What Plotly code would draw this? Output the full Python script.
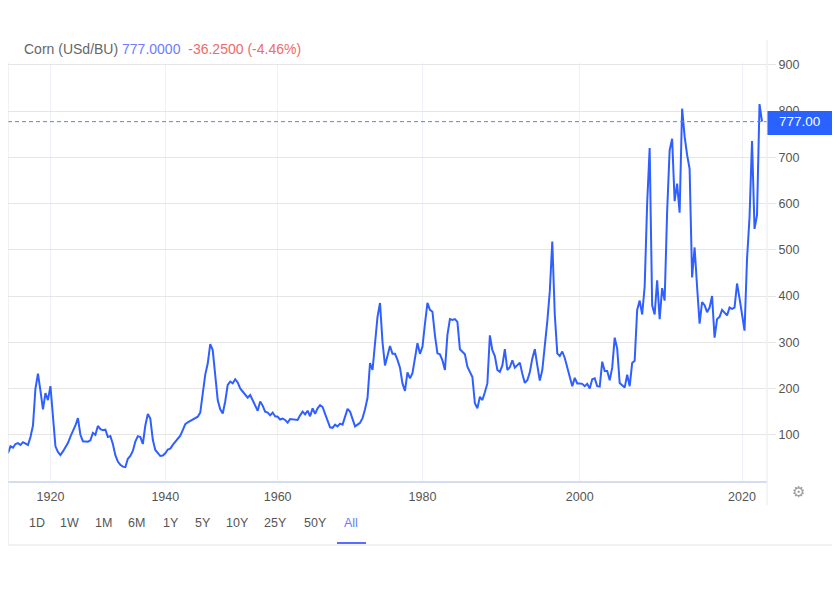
import pandas as pd
import plotly.graph_objects as go

# ---------------- data (USd/BU) ----------------
price_1912_1919 = [60, 75, 72, 80, 82, 78, 84, 80, 78, 95, 120, 200, 232, 195, 155, 190, 175]
price_1920_1939 = [205, 140, 75, 63, 56, 64, 72, 82, 96, 107, 120, 136, 100, 86, 85, 85, 88, 104, 100, 119,
                   112, 110, 111, 95, 97, 80, 56, 42, 35, 31, 30, 48, 54, 65, 85, 97, 95, 80, 120, 145,
                   135, 89, 67, 60, 54, 55]
price_1940_1959 = [60, 68, 70, 78, 85, 92, 98, 110, 123, 127, 130, 133, 137, 139, 148, 190, 230, 254, 296, 283,
                   235, 175, 155, 146, 172, 208, 215, 211, 220, 213, 200, 193, 187, 180, 186, 175, 165, 152, 172, 163,
                   150, 148, 142, 148, 140]
price_1960_1979 = [139, 133, 135, 132, 126, 134, 133, 132, 132, 142, 150, 144, 152, 140, 157, 145, 157, 164, 160, 145,
                   132, 116, 115, 122, 118, 124, 122, 140, 156, 150, 135, 118, 122, 126, 136, 155, 180, 255, 240, 300,
                   355, 385, 300, 250, 269, 292, 275, 275, 262, 245, 211, 195, 235, 222, 233, 262, 298, 275]
price_1980_1999 = [290, 340, 385, 370, 366, 315, 276, 274, 261, 240, 316, 350, 348, 350, 344, 285, 280, 274, 247, 237,
                   225, 168, 157, 182, 175, 192, 211, 315, 283, 270, 240, 236, 250, 285, 240, 246, 261, 245, 251, 256,
                   232, 212, 218, 235, 265, 285, 250, 217, 240, 290, 345, 410, 518, 360, 276, 270, 280, 266, 244, 228,
                   205, 223, 211]
price_2000_2019 = [211, 210, 205, 210, 200, 220, 222, 205, 204, 258, 238, 238, 218, 245, 310, 286, 212, 208, 202, 230,
                   205, 255, 260, 370, 390, 360, 420, 600, 720, 380, 360, 434, 350, 417, 390, 582, 715, 740, 605, 643,
                   580, 805, 745, 705, 675, 440, 505, 420, 340, 387, 380, 365, 375, 400, 310, 350, 355, 370, 365, 358,
                   375, 372, 375, 427, 395]
price_2020_2023 = [360, 325, 480, 570, 735, 545, 575, 815, 777]

eras = [
    ("1912-08-01", "1920-01-01", price_1912_1919),
    ("1920-01-01", "1940-01-01", price_1920_1939),
    ("1940-01-01", "1960-01-01", price_1940_1959),
    ("1960-01-01", "1980-01-01", price_1960_1979),
    ("1980-01-01", "2000-01-01", price_1980_1999),
    ("2000-01-01", "2020-01-01", price_2000_2019),
]
last_era = ("2020-01-01", "2023-05-01", price_2020_2023)

tick_years = ["1920", "1940", "1960", "1980", "2000", "2020"]
y_ticks = [100, 200, 300, 400, 500, 600, 700, 800, 900]
range_buttons = ["1D", "1W", "1M", "6M", "1Y", "5Y", "10Y", "25Y", "50Y", "All"]
title_name = "Corn (USd/BU)"
change_text = "-36.2500 (-4.46%)"

# ---------------- build series (ordinal axis: evenly spaced observations) ----------------
dates, prices = [], []
for start, end, vals in eras:
    d = pd.date_range(start, end, periods=len(vals) + 1)[:-1]
    dates += list(d.strftime("%Y-%m-%d"))
    prices += vals
d = pd.date_range(last_era[0], last_era[1], periods=len(last_era[2]))
dates += list(d.strftime("%Y-%m-%d"))
prices += last_era[2]
last = prices[-1]

# ---------------- layout geometry (screen pixels; page body has an 8px margin) ----------------
OFF = 8
W, H = 832, 592
PL, PR, PT, PB = 0, 759, 55, 473          # plot area in figure pixels
Y_MAX = (PB - PT) / 0.4625
N = len(prices)
X_MAX = (N - 1) + 5 / 2.5

def px(x):  # screen x -> paper
    return (x - OFF - PL) / (PR - PL)

def py(y):  # screen y -> paper
    return (PB - (y - OFF)) / (PB - PT)

FONT = "Liberation Sans, Arial, sans-serif"
BLUE = "#2f60ff"

fig = go.Figure()
fig.add_trace(go.Scatter(
    x=dates, y=prices, mode="lines",
    line=dict(color=BLUE, width=2),
    hoverinfo="skip", showlegend=False,
))

shapes = [
    # current price dashed line
    dict(type="line", xref="paper", yref="y", x0=0, x1=1, y0=last, y1=last,
         line=dict(color="#5a80ff", width=1, dash="4px,3px")),
    # price label box
    dict(type="rect", xref="paper", yref="paper", x0=1, x1=px(834), y0=py(135), y1=py(111),
         fillcolor="#2962ff", line=dict(width=0), layer="above"),
    # right axis line
    dict(type="line", xref="paper", yref="paper", x0=1, x1=1, y0=py(40), y1=py(505),
         line=dict(color="#e8e8e8", width=1)),
    # widget border
    dict(type="line", xref="paper", yref="paper", x0=0, x1=0, y0=py(63), y1=py(545),
         line=dict(color="#e4e4e4", width=1)),
    dict(type="line", xref="paper", yref="paper", x0=0, x1=px(835), y0=py(545), y1=py(545),
         line=dict(color="#e4e4e4", width=1)),
    dict(type="line", xref="paper", yref="paper", x0=px(835), x1=px(835), y0=py(40), y1=py(545),
         line=dict(color="#e4e4e4", width=1)),
    # "All" underline
    dict(type="line", xref="paper", yref="paper", x0=px(337), x1=px(366), y0=py(543), y1=py(543),
         line=dict(color="#5b6dff", width=2)),
]

annotations = [
    dict(xref="paper", yref="paper", x=px(22), y=py(49), xanchor="left", yanchor="middle",
         showarrow=False, font=dict(family=FONT, size=14),
         text=(f'<span style="color:#666666">{title_name}</span> '
               f'<span style="color:#6b7cff">{last:.4f}</span>&nbsp;&nbsp;'
               f'<span style="color:#f06a6a">{change_text}</span>')),
    dict(xref="paper", yref="y", x=px(777), y=last, xanchor="left", yanchor="middle",
         showarrow=False, text=f"{last:.2f}", font=dict(family=FONT, size=13.5, color="white")),
    dict(xref="paper", yref="paper", x=px(798), y=py(492), xanchor="center", yanchor="middle",
         showarrow=False, text="⚙", font=dict(family="DejaVu Sans", size=15, color="#9a9a9a")),
]
btn_x = [37, 69, 103, 136, 171, 203, 237, 275, 315, 351]
for label, bx in zip(range_buttons, btn_x):
    annotations.append(dict(
        xref="paper", yref="paper", x=px(bx), y=py(523), xanchor="center", yanchor="middle",
        showarrow=False, text=label,
        font=dict(family=FONT, size=12.5, color="#6b7cff" if label == "All" else "#555555"),
    ))

fig.update_layout(
    width=W, height=H,
    margin=dict(l=PL, r=W - PR, t=PT, b=H - PB, pad=0),
    paper_bgcolor="white", plot_bgcolor="white",
    shapes=shapes, annotations=annotations,
    showlegend=False,
    font=dict(family=FONT, size=12, color="#555555"),
    xaxis=dict(
        type="category", range=[0, X_MAX],
        tickvals=[f"{y}-01-01" for y in tick_years], ticktext=tick_years,
        showgrid=True, gridcolor="#eef1f7", gridwidth=1,
        showline=True, linecolor="#d3ddf2", linewidth=2,
        ticks="", tickfont=dict(family=FONT, size=12.5, color="#555555"),
        ticklabelstandoff=3, zeroline=False, fixedrange=True,
    ),
    yaxis=dict(
        side="right", range=[0, Y_MAX], tickvals=y_ticks,
        showgrid=True, gridcolor="#e6e6e6", gridwidth=1,
        ticks="outside", ticklen=8, tickcolor="#e6e6e6",
        showline=False, zeroline=False,
        tickfont=dict(family=FONT, size=12.5, color="#555555"),
        fixedrange=True,
    ),
)

fig.write_html("out.html")
